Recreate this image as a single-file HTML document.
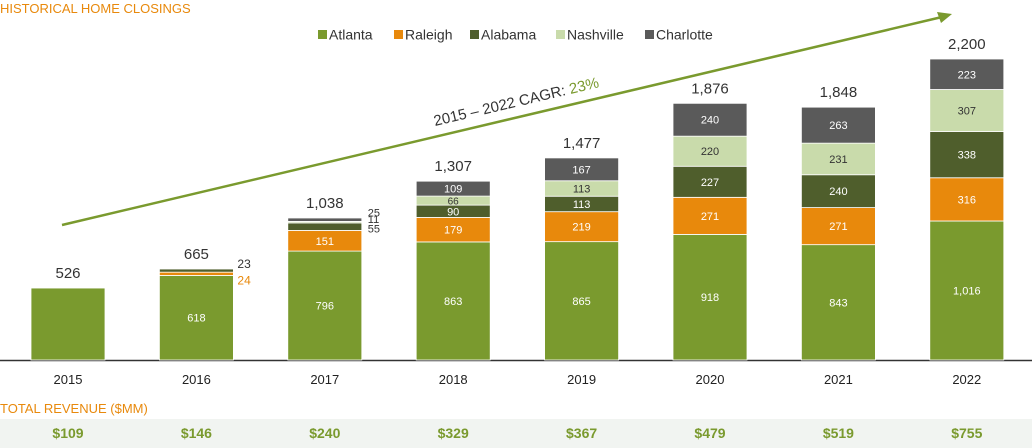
<!DOCTYPE html>
<html><head><meta charset="utf-8"><style>
body{margin:0;background:#fff;width:1032px;height:448px;overflow:hidden;font-family:"Liberation Sans",sans-serif}
svg{display:block}
</style></head><body>
<svg id="c" width="1032" height="448">
<text x="0" y="13" fill="#e8890c" font-size="13">HISTORICAL HOME CLOSINGS</text>
<rect x="0" y="419" width="1032" height="29" fill="#f1f4f1"/>
<text x="0" y="413" fill="#e8890c" font-size="13">TOTAL REVENUE ($MM)</text>
<line x1="0" y1="360.5" x2="1032" y2="360.5" stroke="#333" stroke-width="1.5"/>
<g>
<line x1="62" y1="225" x2="942" y2="17" stroke="#7a9a2e" stroke-width="2.5"/>
<polygon points="952,14 937,12 941,23" fill="#7a9a2e"/>
</g>
<text transform="translate(435,126) rotate(-13.3)" font-size="15" fill="#333">2015 – 2022 CAGR: <tspan fill="#7a9a2e">23%</tspan></text>
<g id="legend"></g><g id="bars"></g>
</svg>
<script>
const years=["2015","2016","2017","2018","2019","2020","2021","2022"];
const series=["Atlanta","Raleigh","Alabama","Nashville","Charlotte"];
const atlanta=[526,618,796,863,865,918,843,1016];
const raleigh=[0,24,151,179,219,271,271,316];
const alabama=[0,23,55,90,113,227,240,338];
const nashville=[0,0,11,66,113,220,231,307];
const charlotte=[0,0,25,109,167,240,263,223];
const totals=["526","665","1,038","1,307","1,477","1,876","1,848","2,200"];
const revenue=["$109","$146","$240","$329","$367","$479","$519","$755"];
const colors=["#7a9a2e","#e8890c","#4f5e2c","#c9dbab","#5a5a5a"];
const data=[atlanta,raleigh,alabama,nashville,charlotte];
const NS="http://www.w3.org/2000/svg";
const base=360,scale=301/2200,x0=68,step=128.4,bw=74;
const xc=i=>x0+i*step, ys=v=>v*scale;
const fmt=v=>v.toLocaleString('en-US');
function el(t,a,p,txt){const e=document.createElementNS(NS,t);for(const k in a)e.setAttribute(k,a[k]);if(txt!==undefined)e.textContent=txt;p.appendChild(e);return e;}
const bars=document.getElementById('bars');
years.forEach((y,i)=>{
  let acc=0;
  data.forEach((s,k)=>{
    const v=s[i];if(!v)return;
    const h=ys(v),top=base-ys(acc)-h;
    const r=el('rect',{x:xc(i)-bw/2,y:top,width:bw,height:h,fill:colors[k],stroke:"#fff","stroke-width":0.8},bars);
    
    
    if(i>0){
      let t;
      if(h>=12){t=el('text',{x:xc(i),y:top+h/2+4,"text-anchor":"middle","font-size":11,fill:k==3?"#333":"#fff"},bars,fmt(v));}
      else if(i==1){t=el('text',{x:xc(i)+bw/2+4,y:k==1?base-ys(618)+9:base-ys(618+24)-4,"font-size":12,fill:k==1?"#e8890c":"#333"},bars,fmt(v));}
      else if(i==2){t=el('text',{x:xc(i)+bw/2+6,y:top+h/2+(k==2?6:k==3?1:-3),"font-size":11,fill:"#333"},bars,fmt(v));}
      else{t=el('text',{x:xc(i),y:top+h/2+4,"text-anchor":"middle","font-size":10,fill:"#333"},bars,fmt(v));}
      
      
    }
    acc+=v;
  });
  const tt=el('text',{x:xc(i),y:base-ys(acc)-10,"text-anchor":"middle","font-size":15,fill:"#333"},bars,totals[i]);
  
  
  const yl=el('text',{x:xc(i),y:384,"text-anchor":"middle","font-size":13,fill:"#222"},bars,y);
  
  
  const rv=el('text',{x:xc(i),y:438,"text-anchor":"middle","font-size":14,"font-weight":"bold",fill:"#7a9a2e"},bars,revenue[i]);
  
  
});
const lg=document.getElementById('legend');
const lx=[318,394,470,556,645];
series.forEach((s,k)=>{
  const g=el('g',{},lg);
  
  
  el('rect',{x:lx[k],y:30,width:9,height:9,fill:colors[k]},g);
  el('text',{x:lx[k]+11,y:39.5,"font-size":14,fill:"#333"},g,s);
});
</script>
</body></html>
